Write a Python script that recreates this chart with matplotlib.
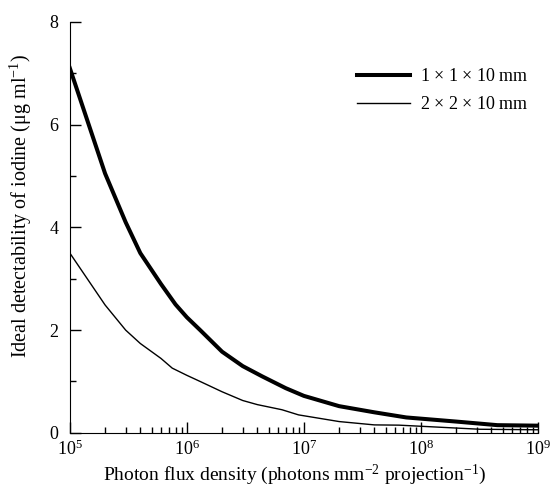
import matplotlib.pyplot as plt
from matplotlib.ticker import LogLocator, MultipleLocator, LogFormatterMathtext

plt.rcParams['font.family'] = 'Liberation Serif'
plt.rcParams['mathtext.fontset'] = 'custom'
plt.rcParams['mathtext.rm'] = 'Liberation Serif'
plt.rcParams['mathtext.it'] = 'Liberation Serif:italic'

# Photon flux density (photons mm^-2 projection^-1) and detectability (ug/ml)
flux_thick = [1e5, 2e5, 3e5, 4e5, 6e5, 8e5, 1e6, 1.3e6, 2e6, 3e6, 4.4e6, 7e6, 1e7,
              2e7, 4e7, 7.5e7, 2e8, 4.5e8, 1e9]
det_thick = [7.1, 5.05, 4.1, 3.5, 2.9, 2.5, 2.25, 2.0, 1.58, 1.3, 1.1, 0.87, 0.72,
             0.52, 0.40, 0.30, 0.22, 0.15, 0.14]

flux_thin = [1e5, 2e5, 3e5, 4e5, 6e5, 7.5e5, 1e6, 1.3e6, 2e6, 3e6, 4e6, 6.5e6, 9e6,
             2e7, 4e7, 6.5e7, 3.2e8, 1e9]
det_thin = [3.5, 2.49, 2.0, 1.74, 1.45, 1.26, 1.12, 1.0, 0.8, 0.63, 0.55, 0.45, 0.35,
            0.22, 0.155, 0.15, 0.07, 0.06]

labels = [r'1 $\times$ 1 $\times$ 10 mm', r'2 $\times$ 2 $\times$ 10 mm']

fig = plt.figure(figsize=(5.5, 4.88), dpi=100)
ax = fig.add_axes([0.127, 0.113, 0.851, 0.842])

ax.plot(flux_thick, det_thick, color='black', lw=2.9, label=labels[0])
ax.plot(flux_thin, det_thin, color='black', lw=1.0, label=labels[1])

ax.set_xscale('log')
ax.set_xlim(1e5, 1e9)
ax.set_ylim(0, 8)

ax.spines['top'].set_visible(False)
ax.spines['right'].set_visible(False)

ax.yaxis.set_major_locator(MultipleLocator(2))
ax.yaxis.set_minor_locator(MultipleLocator(1))
ax.xaxis.set_major_locator(LogLocator(base=10, numticks=10))
ax.xaxis.set_minor_locator(LogLocator(base=10, subs=range(2, 10), numticks=20))
ax.xaxis.set_major_formatter(LogFormatterMathtext())

ax.tick_params(which='major', direction='in', length=8, width=1, labelsize=13)
ax.tick_params(axis='y', which='major', pad=8)
ax.tick_params(axis='x', which='major', pad=5)
ax.tick_params(which='minor', direction='in', length=4, width=1)

ax.set_xlabel(r'Photon flux density (photons mm$^{-2}$ projection$^{-1}$)', fontsize=14)
ax.set_ylabel(r'Ideal detectability of iodine (μg ml$^{-1}$)', fontsize=14.5)
ax.xaxis.set_label_coords(0.481, -0.072)
ax.yaxis.set_label_coords(-0.077, 0.552)

ax.legend(loc='upper left', bbox_to_anchor=(0.579, 0.927), frameon=False, fontsize=13,
          handlelength=2.93, handletextpad=0.55, labelspacing=0.6)

fig.savefig('out.png', dpi=100)
